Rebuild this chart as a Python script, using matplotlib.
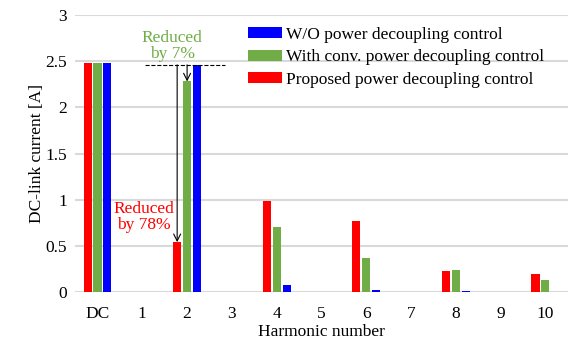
import numpy as np
import matplotlib
matplotlib.use('Agg')
import matplotlib.pyplot as plt

plt.rcParams.update({'font.family':'Liberation Serif','font.size':12.5})

harmonics=['DC','1','2','3','4','5','6','7','8','9','10']
proposed=[2.48,0,0.54,0,0.99,0,0.77,0,0.23,0,0.20]
conv=[2.48,0,2.28,0,0.70,0,0.37,0,0.24,0,0.13]
wo=[2.48,0,2.46,0,0.08,0,0.02,0,0.01,0,0.0]
RED,GREEN,BLUE='#ff0000','#70ad47','#0000ff'

fig=plt.figure(figsize=(5.69,3.4),dpi=100)
ax=fig.add_axes([0.132,0.141,0.866,0.815])
x=np.arange(len(harmonics)); w=0.18; off=0.222
b_wo=ax.bar(x+off,wo,w,color=BLUE,label='W/O power decoupling control')
b_cv=ax.bar(x,conv,w,color=GREEN,label='With conv. power decoupling control')
b_pr=ax.bar(x-off,proposed,w,color=RED,label='Proposed power decoupling control')

ax.set_ylim(0,3); ax.set_xlim(-0.5,len(harmonics)-0.5)
ax.set_yticks(np.arange(0,3.01,0.5)); ax.set_yticklabels(['0','0.5','1','1.5','2','2.5','3'])
ax.set_xticks(x); ax.set_xticklabels(harmonics)
ax.yaxis.grid(True,color='#d9d9d9',lw=1.5); ax.set_axisbelow(True)
for s in ax.spines.values(): s.set_visible(False)
ax.tick_params(axis='y',length=0,pad=6)
ax.tick_params(axis='x',length=0,pad=10)
ax.set_xlabel('Harmonic number',labelpad=1.5); ax.set_ylabel('DC-link current [A]',labelpad=0)

# annotations at harmonic 2
ref=wo[2]
ax.plot([1.07,2.84],[ref,ref],color='k',ls='--',lw=0.8)
ax.annotate('',xy=(2-off,proposed[2]),xytext=(2-off,ref),
            arrowprops=dict(arrowstyle='->',color='k',lw=0.8,shrinkA=0,shrinkB=0))
ax.annotate('',xy=(2,conv[2]),xytext=(2,ref),
            arrowprops=dict(arrowstyle='->',color='k',lw=0.8,shrinkA=0,shrinkB=0))
ax.text(1.67,2.66,'Reduced\nby 7%',color=GREEN,ha='center',va='center',linespacing=1.0)
ax.text(1.03,0.81,'Reduced\nby 78%',color=RED,ha='center',va='center',linespacing=1.0)

ax.legend(handles=[b_wo,b_cv,b_pr],loc='upper left',bbox_to_anchor=(0.35,0.957),frameon=False,
          handlelength=2.0,handleheight=0.6,handletextpad=0.2,labelspacing=0.38,borderaxespad=0,borderpad=0)

fig.savefig('out.png')
